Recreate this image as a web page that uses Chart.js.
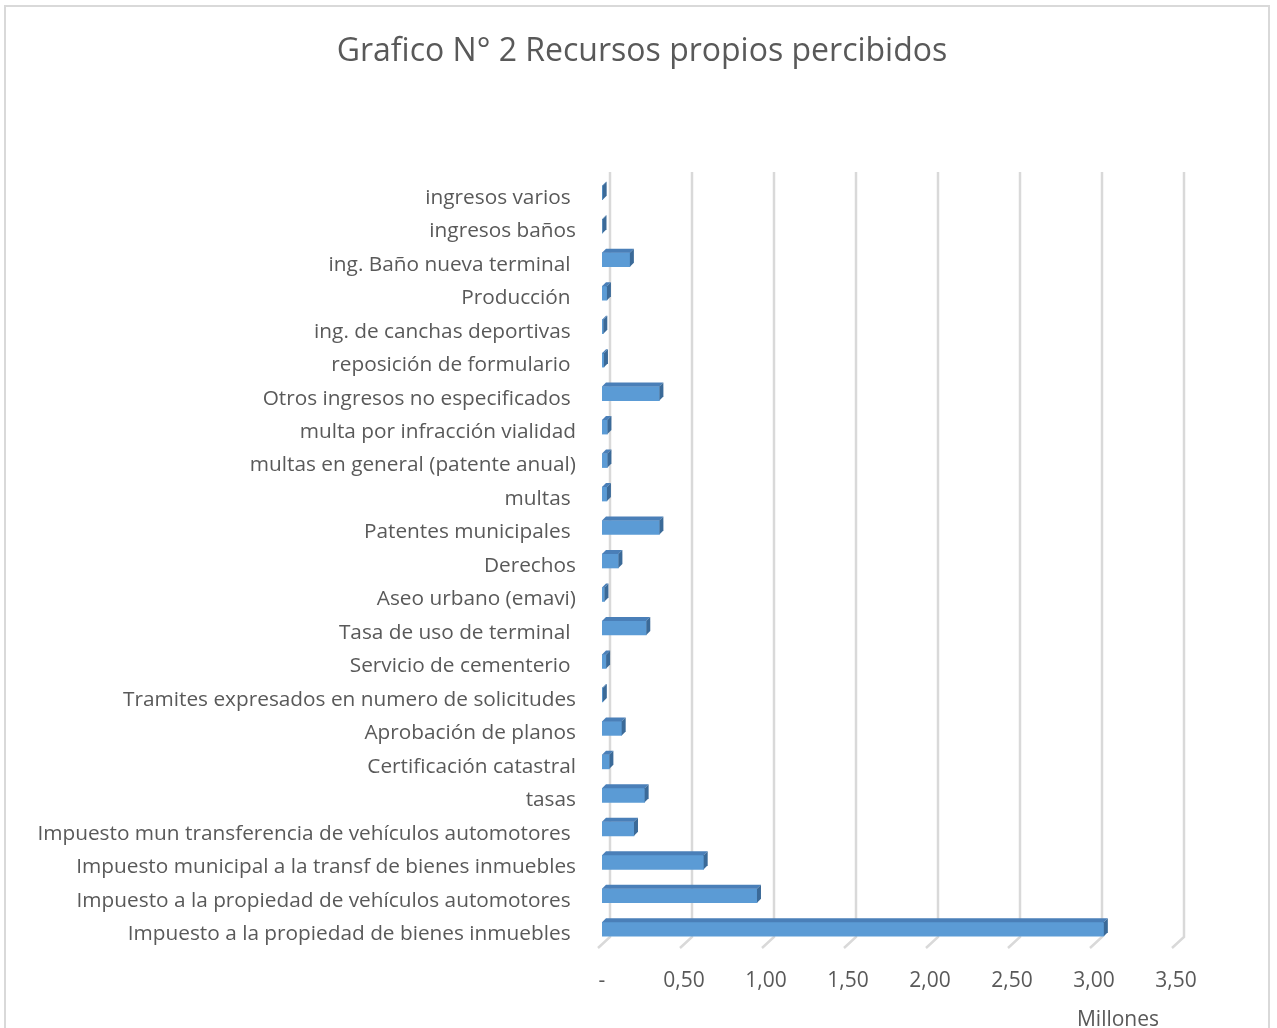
<!DOCTYPE html>
<html>
<head>
<meta charset="utf-8">
<script src="https://cdn.jsdelivr.net/npm/chart.js@4/dist/chart.umd.min.js"></script>
<style>
  html, body { margin: 0; padding: 0; background: #fff; }
  #frame { position: absolute; left: 4px; top: 5px; width: 1266px; height: 1040px; border: 2px solid #d9d9d9; box-sizing: border-box; }
  #wrap { position: absolute; left: 0; top: 0; width: 1277px; height: 1028px; }
</style>
</head>
<body>
<div id="frame"></div>
<div id="wrap"><canvas id="c"></canvas></div>
<script>
const chartTitle = "Grafico N° 2 Recursos propios percibidos";
const axisUnit = "Millones";
const categories = [
  "ingresos varios ",
  "ingresos baños",
  "ing. Baño nueva terminal ",
  "Producción ",
  "ing. de canchas deportivas ",
  "reposición de formulario ",
  "Otros ingresos no especificados ",
  "multa por infracción vialidad",
  "multas en general (patente anual)",
  "multas ",
  "Patentes municipales ",
  "Derechos",
  "Aseo urbano (emavi)",
  "Tasa de uso de terminal ",
  "Servicio de cementerio ",
  "Tramites expresados en numero de solicitudes",
  "Aprobación de planos",
  "Certificación catastral",
  "tasas",
  "Impuesto mun transferencia de vehículos automotores ",
  "Impuesto municipal a la transf de bienes inmuebles",
  "Impuesto a la propiedad de vehículos automotores ",
  "Impuesto a la propiedad de bienes inmuebles "
];
const valuesMillions = [
  0.004, 0.003, 0.17, 0.03, 0.008, 0.012, 0.35, 0.033, 0.033, 0.03,
  0.35, 0.10, 0.015, 0.27, 0.025, 0.005, 0.12, 0.045, 0.26, 0.195,
  0.62, 0.945, 3.06
];
const xTickValues = [0, 0.5, 1, 1.5, 2, 2.5, 3, 3.5];
const xTickLabels = ["-", "0,50", "1,00", "1,50", "2,00", "2,50", "3,00", "3,50"];

const FONT = "'Open Sans', 'DejaVu Sans', sans-serif";
const TEXT = "#595959";

const bar3d = {
  id: 'bar3d',
  beforeDatasetsDraw(chart) {
    const {ctx, chartArea, scales} = chart;
    const xs = scales.x;
    ctx.save();
    ctx.strokeStyle = '#d9d9d9';
    ctx.lineWidth = 2.5;
    const topY = chartArea.top - 4;
    const backBottom = chartArea.bottom - 9;
    xTickValues.forEach(v => {
      const px = xs.getPixelForValue(v) + 8;
      ctx.beginPath();
      ctx.moveTo(px, topY);
      ctx.lineTo(px, backBottom);
      ctx.lineTo(px - 12, backBottom + 11);
      ctx.stroke();
    });
    ctx.restore();
  },
  afterDatasetsDraw(chart) {
    const {ctx} = chart;
    const meta = chart.getDatasetMeta(0);
    const dx = 4, dy = -4;
    ctx.save();
    meta.data.forEach(bar => {
      const p = bar.getProps(['x', 'y', 'base', 'height'], true);
      const t = p.y - p.height / 2, b = p.y + p.height / 2;
      const l = Math.min(p.base, p.x), r = Math.max(p.base, p.x);
      ctx.fillStyle = '#4a7fb8';
      ctx.beginPath();
      ctx.moveTo(l, t); ctx.lineTo(r, t); ctx.lineTo(r + dx, t + dy); ctx.lineTo(l + dx, t + dy);
      ctx.closePath(); ctx.fill();
      ctx.fillStyle = '#3b6a98';
      ctx.beginPath();
      ctx.moveTo(r, t); ctx.lineTo(r + dx, t + dy); ctx.lineTo(r + dx, b + dy); ctx.lineTo(r, b);
      ctx.closePath(); ctx.fill();
    });
    ctx.restore();
  },
  afterDraw(chart) {
    const {ctx, chartArea} = chart;
    ctx.save();
    ctx.fillStyle = TEXT;
    ctx.textAlign = 'center';
    ctx.textBaseline = 'middle';
    ctx.font = "32px " + FONT;
    ctx.fillText(chartTitle, 642, 52);
    ctx.font = "21px " + FONT;
    ctx.fillText(axisUnit, chartArea.right - 58, 1020);
    ctx.restore();
  }
};

new Chart(document.getElementById('c'), {
  type: 'bar',
  data: {
    labels: categories,
    datasets: [{
      data: valuesMillions,
      backgroundColor: '#5b9bd5',
      borderWidth: 0,
      barThickness: 14
    }]
  },
  options: {
    indexAxis: 'y',
    responsive: true,
    maintainAspectRatio: false,
    animation: false,
    devicePixelRatio: 1,
    layout: { padding: { left: 0, right: 101, top: 176, bottom: 0 } },
    plugins: {
      legend: { display: false },
      tooltip: { enabled: false },
      title: { display: false }
    },
    scales: {
      x: {
        min: 0, max: 3.5,
        grid: { display: false, drawTicks: false },
        border: { display: false },
        afterBuildTicks(scale) { scale.ticks = xTickValues.map(v => ({ value: v })); },
        afterFit(scale) { scale.height = 82; },
        ticks: {
          padding: 22,
          color: TEXT,
          font: { family: FONT, size: 21 },
          callback: (v) => { const i = xTickValues.indexOf(v); return i >= 0 ? xTickLabels[i] : ''; }
        }
      },
      y: {
        grid: { display: false, drawTicks: false },
        border: { display: false },
        afterFit(scale) { scale.width = 602; },
        ticks: {
          padding: 26,
          labelOffset: 5,
          color: TEXT,
          autoSkip: false,
          font: { family: FONT, size: 20.8 }
        }
      }
    }
  },
  plugins: [bar3d]
});
</script>
</body>
</html>
